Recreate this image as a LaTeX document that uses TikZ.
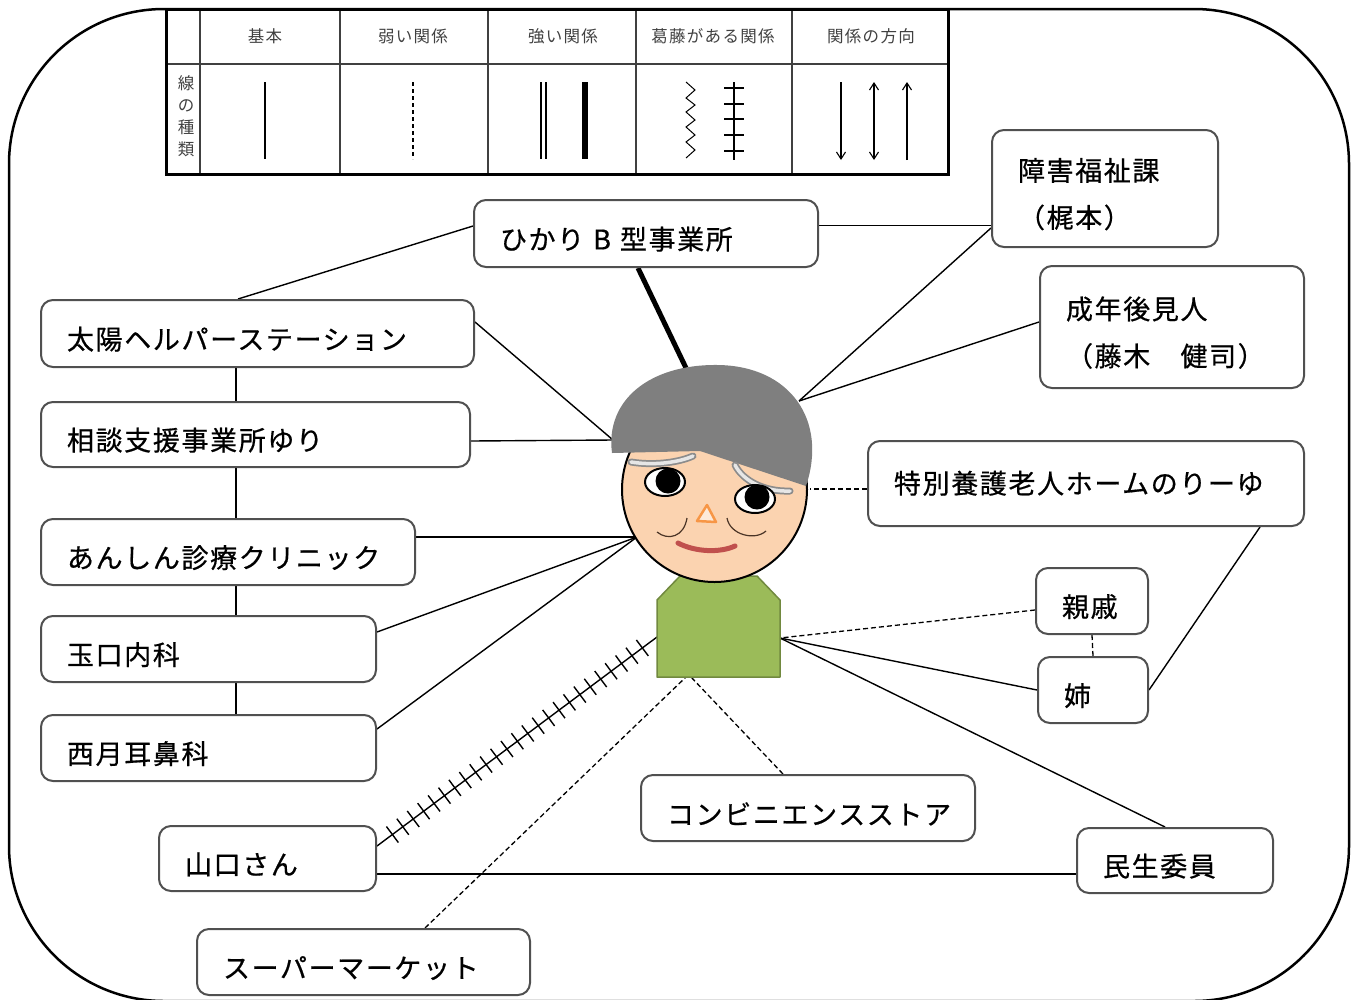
\documentclass[tikz,border=0pt]{standalone}
\usepackage{fontspec}
\newfontfamily\jp[LetterSpace=6,FakeBold=0.6]{Noto Sans CJK JP}
\newfontfamily\jpsmall[LetterSpace=8]{Noto Sans CJK JP}
\usetikzlibrary{arrows.meta,decorations.markings}

\definecolor{boxline}{HTML}{505050}
\definecolor{hair}{HTML}{7F7F7F}
\definecolor{skin}{RGB}{251,211,176}
\definecolor{shirt}{HTML}{9BBB59}
\definecolor{shirtline}{HTML}{71893F}
\definecolor{nose}{HTML}{F79646}
\definecolor{nosefill}{HTML}{FDEADA}
\definecolor{mouth}{HTML}{C0504D}
\definecolor{legendtext}{HTML}{404040}
\definecolor{browfill}{HTML}{E6E6E6}
\definecolor{browline}{HTML}{8C8C8C}
\definecolor{cheek}{HTML}{4A3426}

\pgfdeclarelayer{links}
\pgfsetlayers{links,main}

\tikzset{
  box/.style={draw=boxline, line width=2pt, rounded corners=12pt, fill=white,
    inner xsep=26pt, inner ysep=0pt, align=left, text=black,
    font=\jp\fontsize{27}{47}\selectfont,
    execute at begin node={\rule{0pt}{34pt}}},
  link/.style={line width=1.4pt},
  weak/.style={line width=1.3pt, dash pattern=on 5pt off 3pt},
  strong/.style={line width=5pt},
  conflict/.style={line width=1.4pt, postaction={decorate},
    decoration={markings, mark=between positions 0.055 and 0.985 step 0.0372 with
      {\draw[line width=1.4pt] (0,-10pt) -- (0,10pt);}}},
  legendtxt/.style={font=\jpsmall\fontsize{16.5}{22}\selectfont, text=legendtext, inner sep=0pt},
  legendrule/.style={line width=1.1pt, draw=legendtext},
  barb/.style={line width=1.1pt, >={Straight Barb[length=7pt,width=9pt]}},
}

\begin{document}
\begin{tikzpicture}[x=1pt, y=-1pt]
\useasboundingbox (0,0) rectangle (1351,999);

% outer frame
\draw[line width=2.5pt, rounded corners=155pt] (9,9) rectangle (1349,1001);

% ---------- legend table ----------
\draw[legendrule] (166,64) -- (948,64);
\foreach \cx in {200,340,488,636,792} \draw[legendrule] (\cx,9) -- (\cx,174);
\draw[line width=3pt] (166,9) rectangle (948,174);

\node[legendtxt] (hBasic) at (265,36) {基本};
\node[legendtxt] (hWeak) at (413,36) {弱い関係};
\node[legendtxt] (hStrong) at (563,36) {強い関係};
\node[legendtxt] (hConflict) at (713,36) {葛藤がある関係};
\node[legendtxt] (hDir) at (871,36) {関係の方向};
\node[legendtxt, align=center] (hKind) at (186,116) {線\\の\\種\\類};

% sample lines
\draw[line width=1.2pt] (265,82) -- (265,159);
\draw[line width=1.2pt, dash pattern=on 4pt off 3pt] (413,82) -- (413,159);
\draw[line width=1.5pt] (541,82) -- (541,159) (546,82) -- (546,159);
\draw[line width=6pt] (585,82) -- (585,159);
\draw[line width=1pt] (686,82) -- (695,90) -- (686,98) -- (695,105) -- (686,112) -- (695,120)
  -- (686,127) -- (695,135) -- (686,142) -- (695,150) -- (686,158);
\draw[line width=1.2pt] (734,82) -- (734,160);
\foreach \ty in {88,104,119,135,151} \draw[line width=1.2pt] (724,\ty) -- (744,\ty);
\draw[barb, ->] (841,82) -- (841,160);
\draw[barb, <->] (874,82) -- (874,160);
\draw[barb, ->] (907,160) -- (907,82);

% ---------- boxes ----------
\node[box, minimum width=344pt, minimum height=67pt, text width=292pt] (hikari) at (646,233.5) {ひかり B 型事業所};
\node[box, minimum width=226pt, minimum height=117pt, text width=174pt] (shogai) at (1105,188.5) {障害福祉課\\（梶本）};
\node[box, minimum width=264pt, minimum height=122pt, text width=212pt] (seinen) at (1172,327) {成年後見人\\（藤木　健司）};
\node[box, minimum width=433pt, minimum height=67pt, text width=381pt] (taiyo) at (257.5,333.5) {太陽ヘルパーステーション};
\node[box, minimum width=429pt, minimum height=65pt, text width=377pt] (sodan) at (255.5,434.5) {相談支援事業所ゆり};
\node[box, minimum width=374pt, minimum height=66pt, text width=322pt] (anshin) at (228,552) {あんしん診療クリニック};
\node[box, minimum width=335pt, minimum height=66pt, text width=283pt] (tamaguchi) at (208.5,649) {玉口内科};
\node[box, minimum width=335pt, minimum height=66pt, text width=283pt] (nishi) at (208.5,748) {西月耳鼻科};
\node[box, minimum width=436pt, minimum height=85pt, text width=384pt] (tokubetsu) at (1086,483.5) {\raisebox{7pt}{特別養護老人ホームのりーゆ}};
\node[box, minimum width=112pt, minimum height=66pt, text width=60pt] (shinseki) at (1092,601) {親戚};
\node[box, minimum width=110pt, minimum height=66pt, text width=58pt] (ane) at (1093,690) {姉};
\node[box, minimum width=334pt, minimum height=66pt, text width=282pt] (konbini) at (808,808) {コンビニエンスストア};
\node[box, minimum width=196pt, minimum height=65pt, text width=144pt] (minsei) at (1175,860.5) {民生委員};
\node[box, minimum width=217pt, minimum height=65pt, text width=165pt] (yamaguchi) at (267.5,858.5) {山口さん};
\node[box, minimum width=333pt, minimum height=66pt, text width=281pt] (super) at (363.5,962) {スーパーマーケット};

% ---------- person ----------
\coordinate (hairtop) at (686,368);
\coordinate (hairR) at (799,401);
\coordinate (hairL) at (613,440);
\coordinate (faceL) at (637,537);
\coordinate (faceR) at (810,489);
\coordinate (bodyR) at (780,638);
\coordinate (bodyL) at (657,637);
\coordinate (bodyB) at (686,677);
\coordinate (bodyB2) at (691,677);

% body
\draw[fill=shirt, draw=shirtline, line width=1.5pt, line join=round]
  (657,677) -- (657,600) -- (680,576) -- (757,576) -- (780,600) -- (780,677) -- cycle;
% head
\draw[fill=skin, line width=2pt] (714.5,489.5) circle [radius=92.5pt];
% hair
\fill[hair] (612,453) -- (700,451) -- (806,486)
  .. controls (828,420) and (790,366) .. (718,365)
  .. controls (650,364) and (605,400) .. (612,453) -- cycle;
% eyebrows
\draw[browline, line width=7pt, line cap=round] (631,462) .. controls (655,466) and (680,462) .. (693,456);
\draw[browfill, line width=3.5pt, line cap=round] (631,462) .. controls (655,466) and (680,462) .. (693,456);
\draw[browline, line width=7pt, line cap=round] (735,465) .. controls (743,481) and (765,492) .. (790,491);
\draw[browfill, line width=3.5pt, line cap=round] (735,465) .. controls (743,481) and (765,492) .. (790,491);
% eyes
\draw[fill=white, line width=2pt] (665,482) ellipse [x radius=20pt, y radius=14pt];
\fill (668,481) circle [radius=12.5pt];
\draw[fill=white, line width=2pt] (755,499) ellipse [x radius=20pt, y radius=14pt];
\fill (757,497) circle [radius=12.5pt];
% nose
\draw[nose, fill=nosefill, line width=2.5pt, line join=round] (707,505) -- (697,521) -- (716,522) -- cycle;
% cheeks
\draw[cheek, line width=1.2pt] (657,532) .. controls (668,541) and (684,537) .. (687,518);
\draw[cheek, line width=1.2pt] (727,518) .. controls (730,535) and (755,541) .. (766,531);
% mouth
\draw[mouth, line width=5pt, line cap=round] (678,543) .. controls (695,552) and (720,553) .. (735,546);

% ---------- connectors ----------
\begin{pgfonlayer}{links}
\draw[strong] ([xshift=-8pt]hikari.south) -- (hairtop);
\draw[link] ([xshift=-19.5pt]taiyo.north) -- ([yshift=7.5pt]hikari.west);
\coordinate (hk) at ([yshift=8pt]hikari.east);
\draw[link] (hk) -- (hk -| shogai.west);
\draw[link] ([yshift=-39.5pt]shogai.west) -- (hairR);
\draw[link] ([yshift=5pt]seinen.west) -- (hairR);
\draw[link] ([yshift=11.5pt]taiyo.east) -- (hairL);
\draw[link] ([yshift=-6.5pt]sodan.east) -- (hairL);
\draw[link] ([yshift=15pt]anshin.east) -- (faceL);
\draw[link] ([yshift=17pt]tamaguchi.east) -- (faceL);
\draw[link] ([yshift=19pt]nishi.east) -- (faceL);
\coordinate (spine) at (236,0);
\draw[link] (taiyo.south -| spine) -- (sodan.north -| spine);
\draw[link] (sodan.south -| spine) -- (anshin.north -| spine);
\draw[link] (anshin.south -| spine) -- (tamaguchi.north -| spine);
\draw[link] (tamaguchi.south -| spine) -- (nishi.north -| spine);
\draw[weak] ([yshift=-5.5pt]tokubetsu.west) -- (faceR);
\draw[link] ([xshift=174pt]tokubetsu.south) -- (ane.east);
\draw[weak] ([yshift=-9pt]shinseki.west) -- (bodyR);
\draw[weak] (shinseki.south) -- (ane.north);
\draw[link] (ane.west) -- (bodyR);
\draw[link] ([xshift=-10pt]minsei.north) -- (bodyR);
\coordinate (ym) at ([yshift=-15.5pt]yamaguchi.east);
\draw[link] (ym) -- (ym -| minsei.west);
\draw[conflict] ([yshift=12.5pt]yamaguchi.east) -- (bodyL);
\draw[weak] ([xshift=61.5pt]super.north) -- (bodyB);
\draw[weak] ([xshift=-25pt]konbini.north) -- (bodyB2);
\end{pgfonlayer}
\end{tikzpicture}
\end{document}
